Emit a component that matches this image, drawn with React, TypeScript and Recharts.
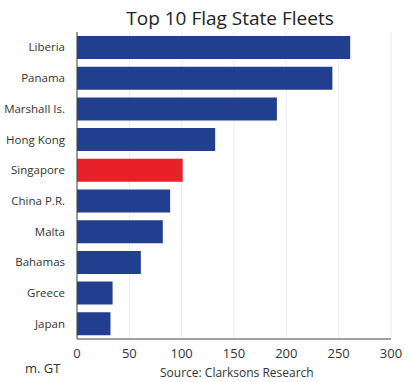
import { BarChart, Bar, XAxis, YAxis, CartesianGrid, Cell } from "recharts";

// flag states, largest first
const flags = [
  "Liberia",
  "Panama",
  "Marshall Is.",
  "Hong Kong",
  "Singapore",
  "China P.R.",
  "Malta",
  "Bahamas",
  "Greece",
  "Japan",
];

// fleet size, m. GT
const fleetGT = [261, 244, 191, 132, 101, 89, 82, 61, 34, 32];

const xTicks = [0, 50, 100, 150, 200, 250, 300];

const data = flags.map((name, i) => ({ name, gt: fleetGT[i] }));

const FONT = "'Open Sans', 'DejaVu Sans', sans-serif";
const BLUE = "#213f8e";
const RED = "#e8202a";

const App = () => {
  return (
    <div
      style={{
        position: "absolute",
        left: 0,
        top: 0,
        width: 412,
        height: 382,
        background: "#fff",
        fontFamily: FONT,
      }}
    >
      {/* TITLE */}
      <div
        style={{
          position: "absolute",
          top: 5,
          left: 77,
          width: 306,
          textAlign: "center",
          fontSize: 19,
          color: "#222",
        }}
      >
        Top 10 Flag State Fleets
      </div>

      <BarChart
        width={412}
        height={382}
        data={data}
        layout="vertical"
        margin={{ top: 32, right: 21, bottom: 13, left: 0 }}
        barCategoryGap="13%"
      >
        <CartesianGrid horizontal={false} stroke="#ececec" />

        <XAxis
          type="number"
          domain={[0, 300]}
          ticks={xTicks}
          tickLine={false}
          tickMargin={4}
          stroke="#444"
          tick={{ fill: "#333", fontSize: 13, fontFamily: FONT }}
        />

        <YAxis
          type="category"
          dataKey="name"
          width={77}
          tickLine={false}
          tickMargin={6}
          stroke="#444"
          tick={{ fill: "#333", fontSize: 11.5, fontFamily: FONT }}
        />

        <Bar dataKey="gt" isAnimationActive={false}>
          {data.map((d) => (
            <Cell key={d.name} fill={d.name === "Singapore" ? RED : BLUE} />
          ))}
        </Bar>
      </BarChart>

      {/* UNITS + SOURCE */}
      <div
        style={{
          position: "absolute",
          top: 359,
          left: 25,
          fontSize: 13,
          color: "#333",
        }}
      >
        m. GT
      </div>
      <div
        style={{
          position: "absolute",
          top: 364,
          left: 160,
          fontSize: 12,
          color: "#333",
        }}
      >
        Source: Clarksons Research
      </div>
    </div>
  );
};

export default App;
